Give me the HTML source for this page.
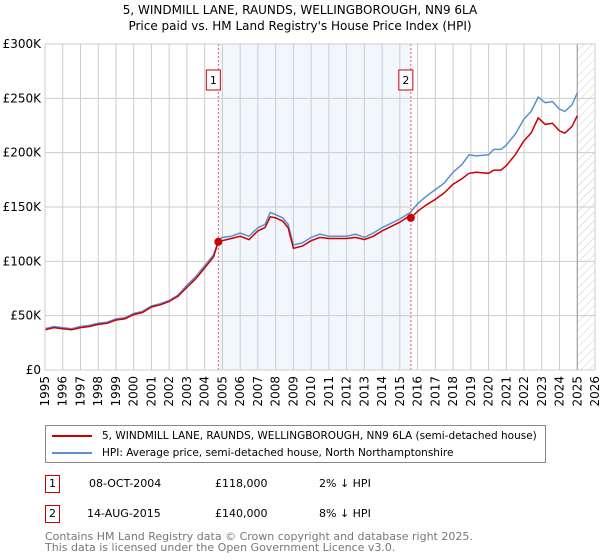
<!DOCTYPE html>
<html><head><meta charset="utf-8"><style>
body{margin:0;background:#fff;font-family:"Liberation Sans","DejaVu Sans",sans-serif;}
#wrap{position:relative;width:600px;height:560px;overflow:hidden}
</style></head><body>
<div id="wrap">
<svg id="chart" width="600" height="560" style="font-family:'DejaVu Sans','Liberation Sans',sans-serif">
<defs><pattern id="hatch" width="6" height="6" patternUnits="userSpaceOnUse" patternTransform="rotate(45)"><line x1="0" y1="0" x2="0" y2="6" stroke="#ccc" stroke-width="1"/></pattern></defs>
<text x="300" y="14" text-anchor="middle" font-size="12">5, WINDMILL LANE, RAUNDS, WELLINGBOROUGH, NN9 6LA</text>
<text x="300" y="30" text-anchor="middle" font-size="12">Price paid vs. HM Land Registry's House Price Index (HPI)</text>
<g id="plot"></g>
</svg>
<div style="position:absolute;left:45px;top:425px;width:499px;height:36px;border:1px solid #888;font-size:10.5px;font-family:'DejaVu Sans',sans-serif;white-space:nowrap">
 <div style="position:absolute;left:6px;top:4px"><span style="display:inline-block;width:40px;height:2px;background:#cc0000;vertical-align:middle;margin-right:10px"></span>5, WINDMILL LANE, RAUNDS, WELLINGBOROUGH, NN9 6LA (semi-detached house)</div>
 <div style="position:absolute;left:6px;top:21px"><span style="display:inline-block;width:40px;height:2px;background:#5b8fd0;vertical-align:middle;margin-right:10px"></span>HPI: Average price, semi-detached house, North Northamptonshire</div>
</div>
<div style="font-size:11px;font-family:'DejaVu Sans',sans-serif">
 <div style="position:absolute;left:45px;top:475px;width:13px;height:16px;border:1px solid #cc0000;text-align:center;line-height:16px">1</div>
 <div style="position:absolute;left:89px;top:477px">08-OCT-2004</div>
 <div style="position:absolute;left:215px;top:477px">£118,000</div>
 <div style="position:absolute;left:319px;top:477px">2% ↓ HPI</div>
 <div style="position:absolute;left:45px;top:505px;width:13px;height:16px;border:1px solid #cc0000;text-align:center;line-height:16px">2</div>
 <div style="position:absolute;left:87px;top:507px">14-AUG-2015</div>
 <div style="position:absolute;left:215px;top:507px">£140,000</div>
 <div style="position:absolute;left:319px;top:507px">8% ↓ HPI</div>
 <div style="position:absolute;left:45px;top:531px;color:#777;font-size:11px;line-height:11px;white-space:nowrap">Contains HM Land Registry data © Crown copyright and database right 2025.<br>This data is licensed under the Open Government Licence v3.0.</div>
</div>
</div>
<script>
const hpiYears=[1995,1995.5,1996,1996.5,1997,1997.5,1998,1998.5,1999,1999.5,2000,2000.5,2001,2001.5,2002,2002.5,2003,2003.5,2004,2004.5,2004.8,2005,2005.5,2006,2006.5,2007,2007.4,2007.7,2008,2008.4,2008.7,2009,2009.5,2010,2010.5,2011,2011.5,2012,2012.5,2013,2013.5,2014,2014.5,2015,2015.6,2016,2016.5,2017,2017.5,2018,2018.5,2018.9,2019.3,2020,2020.3,2020.7,2021,2021.5,2022,2022.4,2022.8,2023.2,2023.6,2024,2024.3,2024.7,2025.0];
const hpiValues=[38,40,39,38,40,41,43,44,47,48,52,54,59,61,64,69,78,86,96,106,120,122,123,126,123,131,134,145,143,140,134,115,117,122,125,123,123,123,125,122,126,131,135,139,145,153,160,166,172,182,189,198,197,198,203,203,207,217,231,238,251,246,247,240,238,244,255];
const priceYears=[1995,1995.5,1996,1996.5,1997,1997.5,1998,1998.5,1999,1999.5,2000,2000.5,2001,2001.5,2002,2002.5,2003,2003.5,2004,2004.5,2004.77,2005,2005.5,2006,2006.5,2007,2007.4,2007.7,2008,2008.4,2008.7,2009,2009.5,2010,2010.5,2011,2011.5,2012,2012.5,2013,2013.5,2014,2014.5,2015,2015.55,2015.62,2016,2016.5,2017,2017.5,2018,2018.5,2018.9,2019.3,2020,2020.3,2020.7,2021,2021.5,2022,2022.4,2022.8,2023.2,2023.6,2024,2024.3,2024.7,2025.0];
const priceValues=[37,39,38,37,39,40,42,43,46,47,51,53,58,60,63,68,76,84,94,104,118,119,121,123,120,128,131,141,140,137,131,112,114,119,122,121,121,121,122,120,123,128,132,136,142,140,146,152,157,163,171,176,181,182,181,184,184,188,198,211,218,232,226,227,220,218,224,234];
const sales=[{n:"1",year:2004.77,value:118},{n:"2",year:2015.62,value:140}];
const yTicks=[0,50,100,150,200,250,300];
const yTickLabels=["£0","£50K","£100K","£150K","£200K","£250K","£300K"];
const xTicks=[1995,1996,1997,1998,1999,2000,2001,2002,2003,2004,2005,2006,2007,2008,2009,2010,2011,2012,2013,2014,2015,2016,2017,2018,2019,2020,2021,2022,2023,2024,2025,2026];

const L=45,R=595,T=44,B=370,X0=1995,X1=2026,YMAX=300;
const xs=v=>L+(v-X0)/(X1-X0)*(R-L);
const ys=v=>B-v/YMAX*(B-T);
const NS="http://www.w3.org/2000/svg";
const g=document.getElementById('plot');
function mk(tag,attrs,parent){const e=document.createElementNS(NS,tag);for(const k in attrs)e.setAttribute(k,attrs[k]);(parent||g).appendChild(e);return e;}

let e=mk('rect',{x:xs(sales[0].year),y:T,width:xs(sales[1].year)-xs(sales[0].year),height:B-T,fill:'#f2f6fd'});


e=mk('rect',{x:xs(2025.0),y:T,width:R-xs(2025.0),height:B-T,fill:'url(#hatch)'});


xTicks.forEach(t=>{
 const l=mk('line',{x1:xs(t),x2:xs(t),y1:T,y2:B,stroke:'#ccc','stroke-width':1});
 
 
 const tx=mk('text',{x:0,y:0,'font-size':12,'text-anchor':'end',transform:`translate(${xs(t)+4},${B+6}) rotate(-90)`});
 tx.textContent=t;
 
 
});
yTicks.forEach((t,i)=>{
 const l=mk('line',{x1:L,x2:R,y1:ys(t),y2:ys(t),stroke:'#ccc','stroke-width':1});
 
 
 const tx=mk('text',{x:L-4,y:ys(t)+4,'font-size':12,'text-anchor':'end'});
 tx.textContent=yTickLabels[i];
 
 
});
e=mk('line',{x1:xs(2025.0),x2:xs(2025.0),y1:T,y2:B,stroke:'#999','stroke-width':1});


sales.forEach(s=>{
 const l=mk('line',{x1:xs(s.year),x2:xs(s.year),y1:T,y2:B,stroke:'#e06060','stroke-width':1,'stroke-dasharray':'2,2'});
 
 
 const r=mk('rect',{x:xs(s.year)-12,y:70,width:14,height:20,fill:'#fff',stroke:'#cc0000','stroke-width':1});
 
 
 const tx=mk('text',{x:xs(s.year)-5,y:84,'font-size':11,'text-anchor':'middle'});
 tx.textContent=s.n;
 
 
});
function path(xsArr,vs){return xsArr.map((x,i)=>(i?'L':'M')+xs(x).toFixed(1)+','+ys(vs[i]).toFixed(1)).join('');}
e=mk('path',{d:path(hpiYears,hpiValues),fill:'none',stroke:'#5b8fd0','stroke-width':1.5});


e=mk('path',{d:path(priceYears,priceValues),fill:'none',stroke:'#cc0000','stroke-width':1.5});


sales.forEach(s=>{
 const c=mk('circle',{cx:xs(s.year),cy:ys(s.value),r:4,fill:'#cc0000'});
 
 
});
e=mk('rect',{x:L,y:T,width:R-L,height:B-T,fill:'none',stroke:'#ccc'});


</script>
</body></html>
